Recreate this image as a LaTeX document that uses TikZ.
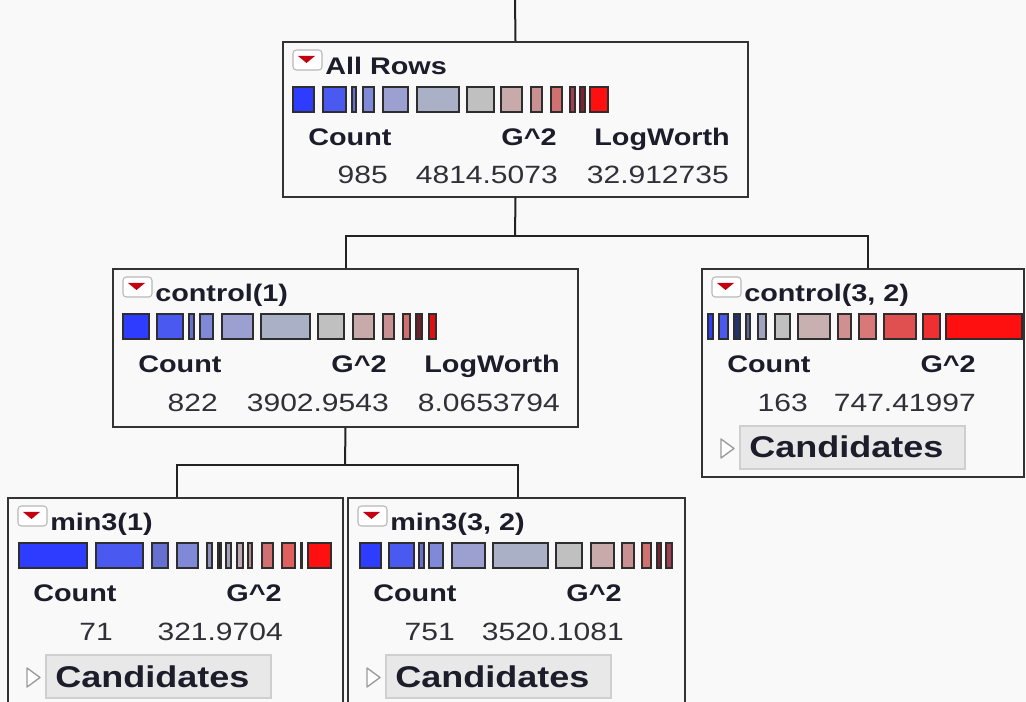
\documentclass[tikz,border=0pt]{standalone}
\usepackage{fontspec}
\setmainfont{Liberation Sans}[FakeStretch=1.2]
\usetikzlibrary{fit}
\definecolor{bg}{HTML}{F9F9F9}
\definecolor{boxline}{HTML}{333333}
\definecolor{connline}{HTML}{222222}
\definecolor{segline}{HTML}{2E2E2E}
\definecolor{lbltext}{HTML}{1C1C2A}
\definecolor{valtext}{HTML}{303036}
\definecolor{iconred}{HTML}{C40010}
\definecolor{iconline}{HTML}{B8B8B8}
\definecolor{btnfill}{HTML}{E8E8E8}
\definecolor{btnline}{HTML}{CFCFCF}
\definecolor{tricol}{HTML}{9A9A9A}
% bar palette
\definecolor{bA}{HTML}{2D3CFF}
\definecolor{bB}{HTML}{4A5AF0}
\definecolor{bC}{HTML}{6670D0}
\definecolor{bD}{HTML}{8088D8}
\definecolor{bE}{HTML}{9CA0D0}
\definecolor{bF}{HTML}{AAB0C6}
\definecolor{gG}{HTML}{C0C0C0}
\definecolor{rH}{HTML}{C8AAAA}
\definecolor{rI}{HTML}{C89090}
\definecolor{rJ}{HTML}{D07070}
\definecolor{rK}{HTML}{A04050}
\definecolor{rL}{HTML}{802030}
\definecolor{rM}{HTML}{FF1010}
\definecolor{dB}{HTML}{203070}
\definecolor{bG}{HTML}{6068A0}
\definecolor{bH}{HTML}{A0A4C0}
\definecolor{rN}{HTML}{C8B0B0}
\definecolor{rO}{HTML}{D09090}
\definecolor{rP}{HTML}{D87878}
\definecolor{rQ}{HTML}{E05050}
\definecolor{rR}{HTML}{F03030}
\definecolor{kS}{HTML}{202020}
\definecolor{bI}{HTML}{9090C0}
\definecolor{bJ}{HTML}{A0A0B8}
\definecolor{rT}{HTML}{C0A8B0}
\definecolor{rU}{HTML}{B09090}
\definecolor{rV}{HTML}{E06060}
\definecolor{rW}{HTML}{702028}
\definecolor{rX}{HTML}{E01010}

\tikzset{
  treebox/.style={draw=boxline, line width=1.5pt, fill=bg, inner sep=0pt},
  seg/.style={draw=segline, line width=1.8pt},
  conn/.style={draw=connline, line width=1.5pt},
  iconbox/.style={draw=iconline, line width=0.8pt, fill=white, rounded corners=2.5pt},
  lbl/.style={inner sep=0pt, text=lbltext, font=\fontsize{18pt}{20pt}\selectfont\bfseries},
  val/.style={inner sep=0pt, text=valtext, font=\fontsize{18.75pt}{20pt}\selectfont},
  candtxt/.style={inner sep=0pt, text=lbltext, font=\fontsize{22.5pt}{24pt}\selectfont\bfseries},
  candbtn/.style={draw=btnline, line width=0.8pt, fill=btnfill},
  candtri/.style={draw=tricol, line width=1pt, fill=white, line join=round}
}

% #1 prefix, #2 x0, #3 y0, #4 title
\newcommand\nodehead[4]{%
  \begin{scope}[shift={(#2,#3)}]
    \draw[iconbox] (10,8) rectangle (39,28);
    \fill[iconred] (15,14) -- (32,14) -- (23.5,21) -- cycle;
    \node[lbl, anchor=base west] (#1-title) at (42,33) {#4};
    \node[lbl, anchor=base west] (#1-count) at (25,104) {Count};
    \node[lbl, anchor=base east] (#1-g2) at (274,104) {G\textasciicircum 2};
  \end{scope}}
% #1 prefix, #2 x0, #3 y0
\newcommand\candidates[3]{%
  \begin{scope}[shift={(#2,#3)}]
    \draw[candtri] (19,170) -- (32,179.5) -- (19,189) -- cycle;
    \draw[candbtn] (38,157) rectangle (263,200);
    \node[candtxt, anchor=base west] (#1-cand) at (47,189) {Candidates};
  \end{scope}}
% #1 y0 (box top), #2 list x1/x2/colour
\newcommand\segbar[2]{%
  \foreach \a/\b/\c in {#2} {\draw[seg, fill=\c] (\a+1.2,#1+45.2) rectangle (\b-1.2,#1+69.8);}}

\begin{document}
\begin{tikzpicture}[x=0.75pt, y=-0.75pt]
  \useasboundingbox (0,0) rectangle (1026,702);
  \fill[bg] (0,0) rectangle (1026,702);

  % boxes
  \node[treebox, fit={(283,42) (748,197)}] (ar) {};
  \node[treebox, fit={(113,269) (578,427)}] (c1) {};
  \node[treebox, fit={(702,269) (1024,477)}] (c32) {};
  \node[treebox, fit={(8,498) (343,712)}] (m1) {};
  \node[treebox, fit={(348,498) (685,712)}] (m32) {};

  % connectors
  \coordinate (topend) at (515,-2);
  \coordinate (j1) at (515,236);
  \coordinate (j2) at (345,465);
  \draw[conn] (topend) -- (ar.north);
  \draw[conn] (ar.south) -- (j1);
  \draw[conn] (c1.north) |- (j1) -| ([xshift=3.75pt]c32.north);
  \draw[conn] (c1.south) -- (j2);
  \draw[conn] ([xshift=1.1pt]m1.north) |- (j2) -| ([xshift=1.1pt]m32.north);

  % All Rows
  \nodehead{ar}{283}{42}{All Rows}
  \node[lbl, anchor=base east] (ar-lw) at (730,146) {LogWorth};
  \segbar{42}{292/315/bA, 322/347/bB, 351/357/bC, 362/375/bD, 382/409/bE, 416/460/bF, 466/495/gG, 500/523/rH, 530/543/rI, 550/563/rJ, 569/576/rK, 579/586/rL, 589/609/rM}
  \node[val, anchor=base east] (ar-n) at (388,184) {985};
  \node[val, anchor=base east] (ar-gv) at (558,184) {4814.5073};
  \node[val, anchor=base east] (ar-lv) at (729,184) {32.912735};

  % control(1)
  \nodehead{c1}{113}{269}{control(1)}
  \node[lbl, anchor=base east] (c1-lw) at (560,373) {LogWorth};
  \segbar{269}{122/150/bA, 156/184/bB, 188/195/bC, 199/214/bD, 221/254/bE, 260/311/bF, 317/345/gG, 352/375/rH, 382/395/rI, 402/411/rJ, 415/423/rW, 428/437/rX}
  \node[val, anchor=base east] (c1-n) at (218,412) {822};
  \node[val, anchor=base east] (c1-gv) at (389,412) {3902.9543};
  \node[val, anchor=base east] (c1-lv) at (560,412) {8.0653794};

  % control(3, 2)
  \nodehead{c32}{702}{269}{control(3, 2)}
  \segbar{269}{707/714/bA, 718/729/bB, 733/741/dB, 745/751/bG, 757/767/bH, 774/791/gG, 797/831/rN, 837/852/rO, 858/877/rP, 883/917/rQ, 922/941/rR, 945/1023/rM}
  \node[val, anchor=base east] (c32-n) at (808,412) {163};
  \node[val, anchor=base east] (c32-gv) at (976,412) {747.41997};
  \candidates{c32}{702}{269}

  % min3(1)
  \nodehead{m1}{8}{498}{min3(1)}
  \segbar{498}{18/88/bA, 95/144/bB, 151/169/bC, 176/199/bD, 206/213/bI, 217/222/kS, 225/232/bJ, 236/244/rT, 247/253/rU, 261/274/rJ, 281/296/rV, 300/303/kS, 307/332/rM}
  \node[val, anchor=base east] (m1-n) at (113,640) {71};
  \node[val, anchor=base east] (m1-gv) at (283,640) {321.9704};
  \candidates{m1}{8}{498}

  % min3(3, 2)
  \nodehead{m32}{348}{498}{min3(3, 2)}
  \segbar{498}{359/382/bA, 388/415/bB, 418/425/bC, 428/444/bD, 451/486/bE, 492/549/bF, 555/583/gG, 590/615/rH, 621/635/rI, 641/652/rJ, 656/662/rL, 665/673/rK}
  \node[val, anchor=base east] (m32-n) at (455,640) {751};
  \node[val, anchor=base east] (m32-gv) at (624,640) {3520.1081};
  \candidates{m32}{348}{498}
\end{tikzpicture}
\end{document}
